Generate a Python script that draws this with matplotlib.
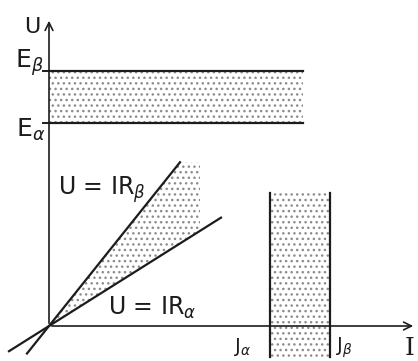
import numpy as np
import matplotlib.pyplot as plt

# operating limits (arbitrary units)
E_alpha, E_beta = 20.3, 25.5      # voltage band
J_alpha, J_beta = 22.1, 28.1      # current band
R_alpha, R_beta = 0.63, 1.25      # load line slopes

# extent of the drawn pieces
I_max, U_max = 36.7, 30.8
band_end = 25.4
R_beta_I = (-2.2, 13.1)
R_alpha_I = (-4.0, 17.2)
shade_right = 15.1
J_top, J_bottom = 13.3, -3.1

ink = '#1c1c1c'
dots = '#8c8c8c'
plt.rcParams['hatch.linewidth'] = 1.0

fig = plt.figure(figsize=(4.18, 3.61), dpi=100)
ax = fig.add_axes([0, 0, 1, 1])
ax.set_xlim(-4.9, 36.9)
ax.set_ylim(-3.5, 32.6)
ax.axis('off')

# axes with open arrow heads
ax.annotate('', xy=(I_max, 0), xytext=(0, 0),
            arrowprops=dict(arrowstyle='->', color=ink, lw=1.2, mutation_scale=14))
ax.annotate('', xy=(0, U_max), xytext=(0, 0),
            arrowprops=dict(arrowstyle='->', color=ink, lw=1.2, mutation_scale=14))

# voltage band E_alpha .. E_beta
ax.fill_between([0, band_end], E_alpha, E_beta, facecolor='none',
                edgecolor=dots, hatch='...', lw=0)
for E in (E_alpha, E_beta):
    ax.plot([0, band_end], [E, E], color=ink, lw=1.6)
    ax.plot([-0.6, 0], [E, E], color=ink, lw=1.4)

# load lines U = I R
Ib = np.array(R_beta_I)
Ia = np.array(R_alpha_I)
ax.plot(Ib, R_beta * Ib, color=ink, lw=1.6)
ax.plot(Ia, R_alpha * Ia, color=ink, lw=1.6)
top = R_beta * R_beta_I[1]
wedge_x = [0, R_beta_I[1], shade_right, shade_right, 0]
wedge_y = [0, top, top, R_alpha * shade_right, 0]
ax.fill(wedge_x, wedge_y, facecolor='none', edgecolor=dots, hatch='...', lw=0)

# current band J_alpha .. J_beta
ax.fill_between([J_alpha, J_beta], J_bottom, J_top, facecolor='none',
                edgecolor=dots, hatch='...', lw=0)
for J in (J_alpha, J_beta):
    ax.plot([J, J], [J_bottom, J_top], color=ink, lw=1.6)

# labels
ax.text(-0.9, 29.3, 'U', fontsize=16, color=ink, ha='right', va='baseline')
ax.text(-0.5, 25.8, r'E$_\beta$', fontsize=18, color=ink, ha='right', va='baseline')
ax.text(-0.4, 18.9, r'E$_\alpha$', fontsize=18, color=ink, ha='right', va='baseline')
ax.text(0.9, 13.1, r'U = IR$_\beta$', fontsize=17, color=ink, ha='left', va='baseline')
ax.text(5.9, 1.1, r'U = IR$_\alpha$', fontsize=17, color=ink, ha='left', va='baseline')
ax.text(18.5, -2.6, r'J$_\alpha$', fontsize=14, color=ink, ha='left', va='baseline')
ax.text(28.7, -2.6, r'J$_\beta$', fontsize=14, color=ink, ha='left', va='baseline')
ax.text(35.6, -2.9, 'I', fontsize=18, color=ink, ha='left', va='baseline',
        family='DejaVu Serif')

fig.savefig('out.png', dpi=100)
